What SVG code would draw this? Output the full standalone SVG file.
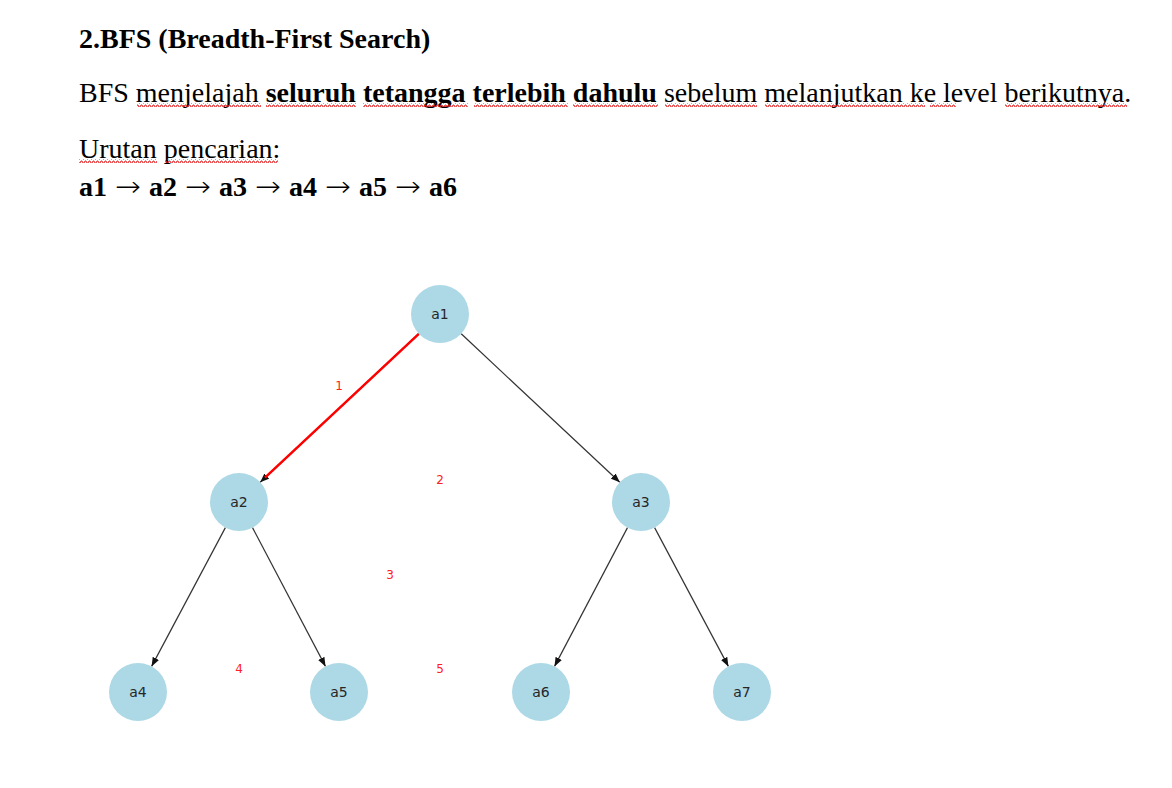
<svg xmlns="http://www.w3.org/2000/svg" width="1172" height="788" viewBox="0 0 1172 788">
<defs>
<marker id="ah" markerUnits="userSpaceOnUse" markerWidth="9" markerHeight="8" refX="9" refY="4" orient="auto">
<path d="M0,0.5 L9,4 L0,7.5 Z" fill="#111"/>
</marker>
<pattern id="sq" patternUnits="userSpaceOnUse" width="4" height="4" x="0" y="0">
<path d="M0,3 L1,1 L2,1 L3,3 L4,3" fill="none" stroke="#e02020" stroke-width="1"/>
</pattern>
<style>
.t{font-family:"Liberation Serif","Times New Roman",serif;font-size:28px;fill:#000}
.b{font-weight:bold}
.ar{font-family:"DejaVu Sans",sans-serif;font-weight:200}
.node circle{fill:#add8e6}
.node text{font-family:"DejaVu Sans",sans-serif;font-size:14px;fill:#262626;text-anchor:middle;dominant-baseline:central}
.edge{stroke:#333;stroke-width:1.2;fill:none}
.lbl{font-family:"DejaVu Sans",sans-serif;font-size:12px;fill:#ff2020;text-anchor:middle;dominant-baseline:central}
</style>
</defs>
<rect width="1172" height="788" fill="#fff"/>
<g id="text">
<text class="t b" x="79" y="48">2.BFS (Breadth-First Search)</text>
<text class="t" x="79" y="102">BFS menjelajah <tspan class="b">seluruh tetangga terlebih dahulu</tspan> sebelum melanjutkan ke level berikutnya.</text>
<text class="t" x="79" y="158">Urutan pencarian:</text>
<text class="t b" y="196"><tspan x="79">a1</tspan><tspan class="ar" x="115" textLength="26" lengthAdjust="spacingAndGlyphs">→</tspan><tspan x="149">a2</tspan><tspan class="ar" x="185" textLength="26" lengthAdjust="spacingAndGlyphs">→</tspan><tspan x="219">a3</tspan><tspan class="ar" x="255" textLength="26" lengthAdjust="spacingAndGlyphs">→</tspan><tspan x="289">a4</tspan><tspan class="ar" x="325" textLength="26" lengthAdjust="spacingAndGlyphs">→</tspan><tspan x="359">a5</tspan><tspan class="ar" x="395" textLength="26" lengthAdjust="spacingAndGlyphs">→</tspan><tspan x="429">a6</tspan></text>
</g>
<g id="squiggles" fill="url(#sq)">
<rect x="137" y="103" width="124" height="4"/>
<rect x="266" y="103" width="90" height="4"/>
<rect x="363" y="103" width="105" height="4"/>
<rect x="474" y="103" width="94" height="4"/>
<rect x="573" y="103" width="85" height="4"/>
<rect x="665" y="103" width="92" height="4"/>
<rect x="765" y="103" width="160" height="4"/>
<rect x="930" y="103" width="26" height="4"/>
<rect x="1005" y="103" width="122" height="4"/>
<rect x="79" y="159" width="78" height="4"/>
<rect x="165" y="159" width="113" height="4"/>
</g>
<g id="connectors">
<line class="edge" x1="418.8" y1="333.8" x2="260.2" y2="482.2" marker-end="url(#ah)"/>
<line x1="418.8" y1="333.8" x2="265" y2="477.7" stroke="#ff0000" stroke-width="2.5"/>
<line class="edge" x1="461.2" y1="333.8" x2="619.8" y2="482.2" marker-end="url(#ah)"/>
<line class="edge" x1="225.4" y1="527.6" x2="151.6" y2="666.4" marker-end="url(#ah)"/>
<line class="edge" x1="252.5" y1="527.6" x2="325.5" y2="666.4" marker-end="url(#ah)"/>
<line class="edge" x1="627.5" y1="527.6" x2="554.5" y2="666.4" marker-end="url(#ah)"/>
<line class="edge" x1="654.6" y1="527.6" x2="728.4" y2="666.4" marker-end="url(#ah)"/>
<text class="lbl" x="339" y="386">1</text>
<text class="lbl" x="440" y="480">2</text>
<text class="lbl" x="390" y="575">3</text>
<text class="lbl" x="239" y="669">4</text>
<text class="lbl" x="440" y="669">5</text>
</g>
<g id="a1" class="node"><circle cx="440" cy="314" r="29"/><text x="440" y="314">a1</text></g>
<g id="a2" class="node"><circle cx="239" cy="502" r="29"/><text x="239" y="502">a2</text></g>
<g id="a3" class="node"><circle cx="641" cy="502" r="29"/><text x="641" y="502">a3</text></g>
<g id="a4" class="node"><circle cx="138" cy="692" r="29"/><text x="138" y="692">a4</text></g>
<g id="a5" class="node"><circle cx="339" cy="692" r="29"/><text x="339" y="692">a5</text></g>
<g id="a6" class="node"><circle cx="541" cy="692" r="29"/><text x="541" y="692">a6</text></g>
<g id="a7" class="node"><circle cx="742" cy="692" r="29"/><text x="742" y="692">a7</text></g>
</svg>
